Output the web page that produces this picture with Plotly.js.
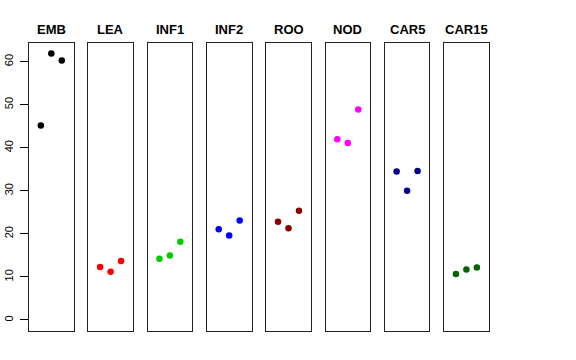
<!DOCTYPE html>
<html>
<head>
<meta charset="utf-8">
<script src="https://cdn.plot.ly/plotly-3.0.1.min.js"></script>
<style>html,body{margin:0;padding:0;background:#fff;}#chart{width:576px;height:360px;}</style>
</head>
<body>
<div id="chart"></div>
<script>
var categories = ["EMB", "LEA", "INF1", "INF2", "ROO", "NOD", "CAR5", "CAR15"];
var replicates = [1, 2, 3];
var EMB = [45.2, 61.9, 60.3];
var LEA = [12.3, 11.2, 13.7];
var INF1 = [14.2, 15.0, 18.2];
var INF2 = [21.1, 19.6, 23.1];
var ROO = [22.8, 21.3, 25.4];
var NOD = [42.0, 41.1, 48.9];
var CAR5 = [34.5, 30.0, 34.6];
var CAR15 = [10.7, 11.7, 12.2];
var seriesValues = [EMB, LEA, INF1, INF2, ROO, NOD, CAR5, CAR15];
var colors = ["#000000", "#FF0000", "#00CD00", "#0000FF", "#8B0000", "#FF00FF", "#00008B", "#006400"];
var yTicks = [0, 10, 20, 30, 40, 50, 60];

var W = 576, H = 360;
var left0 = 29, period = 59.3, pw = 44.6;
var yTop = 43.3, yBot = 330.7;
var traces = [];
var layout = {
  width: W, height: H,
  margin: {l: 0, r: 0, t: 0, b: 0},
  paper_bgcolor: "#fff", plot_bgcolor: "#fff",
  showlegend: false,
  font: {family: "Liberation Sans, Arial, sans-serif", color: "#000"},
  annotations: []
};
for (var i = 0; i < categories.length; i++) {
  var n = i === 0 ? "" : String(i + 1);
  var xl = left0 + i * period;
  traces.push({
    x: replicates, y: seriesValues[i], type: "scatter", mode: "markers",
    marker: {color: colors[i], size: 6.5},
    xaxis: "x" + n, yaxis: "y" + n, hoverinfo: "none"
  });
  layout["xaxis" + n] = {
    domain: [xl / W, (xl + pw) / W], range: [-0.13, 4.13],
    showline: true, mirror: true, linecolor: "#222", linewidth: 1,
    showgrid: false, zeroline: false, showticklabels: false, ticks: "",
    anchor: "y" + n, fixedrange: true
  };
  var ya = {
    domain: [(H - yBot) / H, (H - yTop) / H], range: [-2.49, 64.27],
    showline: true, mirror: true, linecolor: "#222", linewidth: 1,
    showgrid: false, zeroline: false,
    anchor: "x" + n, fixedrange: true
  };
  if (i === 0) {
    ya.tickvals = yTicks;
    ya.ticktext = yTicks.map(String);
    ya.ticks = "outside"; ya.ticklen = 8; ya.tickcolor = "#000"; ya.tickwidth = 1;
    ya.tickangle = -90;
    ya.ticklabelstandoff = 3;
    ya.tickfont = {size: 11, family: "Liberation Sans, Arial, sans-serif", color: "#000"};
  } else {
    ya.showticklabels = false; ya.ticks = "";
  }
  layout["yaxis" + n] = ya;
  layout.annotations.push({
    text: "<b>" + categories[i] + "</b>", xref: "paper", yref: "paper",
    x: (xl + pw / 2) / W, y: (H - 29.5) / H, xanchor: "center", yanchor: "middle",
    showarrow: false, font: {size: 13, family: "Liberation Sans, Arial, sans-serif", color: "#000"}
  });
}
Plotly.newPlot("chart", traces, layout, {displayModeBar: false, staticPlot: true});
</script>
</body>
</html>
